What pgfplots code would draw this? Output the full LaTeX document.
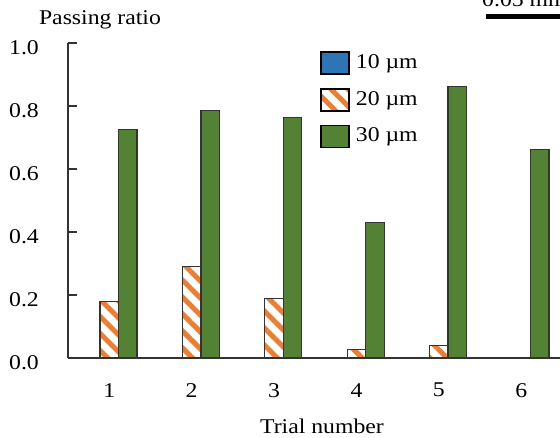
\documentclass[border=0pt]{standalone}
\usepackage{fontspec}
\setmainfont{Liberation Serif}[FakeStretch=1.13]
\usepackage{pgfplots}
\pgfplotsset{compat=1.18}
\usetikzlibrary{patterns.meta}
\definecolor{cblue}{HTML}{2E75B6}
\definecolor{corange}{HTML}{ED7D31}
\definecolor{cgreen}{HTML}{548235}
\definecolor{cedge}{HTML}{333333}

\begin{document}
\fontsize{21pt}{25pt}\selectfont
\begin{tikzpicture}
\useasboundingbox (0pt,0pt) rectangle (560pt,437pt);
\clip (0pt,0pt) rectangle (560pt,437pt);
\begin{axis}[
  at={(68pt,79pt)}, anchor=south west,
  scale only axis, width=492pt, height=315pt,
  xmin=0.5, xmax=6.47, ymin=0, ymax=1,
  axis x line*=bottom, axis y line*=left,
  axis line style={cedge, line width=1.3pt, -},
  xtick={1,2,3,4,5,6},
  ytick={0,0.2,0.4,0.6,0.8,1.0},
  tick align=inside,
  major tick length=9pt,
  xtick style={draw=none},
  ytick style={cedge, line width=1.3pt},
  tick label style={font=\fontsize{21pt}{25pt}\selectfont, /pgf/number format/assume math mode=true},
  yticklabel style={/pgf/number format/.cd, fixed, fixed zerofill, precision=1, /tikz/.cd, xshift=-22pt, yshift=-5pt},
  xticklabel style={yshift=-9pt},
  ybar, bar width=18.5pt,
  legend cell align=left,
  legend style={draw=none, fill=none, at={(rel axis cs:0.512,0.975)}, anchor=north west,
    font=\fontsize{21pt}{25pt}\selectfont, row sep=13pt, column sep=4pt, inner sep=0pt},
  legend image code/.code={\draw[#1, draw=black, line width=1.8pt] (0pt,-11pt) rectangle (28pt,11pt);},
]
\addplot[fill=cblue, draw=cedge, line width=1.1pt, bar shift=-18.5pt] coordinates {(1,0) (2,0) (3,0) (4,0) (5,0) (6,0)};
\addplot[pattern={Lines[angle=-45, distance=12pt, line width=5pt]}, pattern color=corange, draw=cedge, line width=1.1pt, bar shift=0pt] coordinates {(1,0.179) (2,0.290) (3,0.188) (4,0.026) (5,0.039) (6,0)};
\addplot[fill=cgreen, draw=cedge, line width=1.3pt, bar shift=18.5pt] coordinates {(1,0.725) (2,0.786) (3,0.763) (4,0.431) (5,0.861) (6,0.663)};
\legend{10 µm, 20 µm, 30 µm}
\end{axis}
\node[inner sep=0pt] at (100pt,417pt) {Passing ratio};
\node[inner sep=0pt] at (322pt,11pt) {Trial number};
\node[anchor=base west, inner sep=0pt] at (482pt,430pt) {0.05 mm};
\fill[black] (486pt,418pt) rectangle (570pt,423pt);
\end{tikzpicture}
\end{document}
